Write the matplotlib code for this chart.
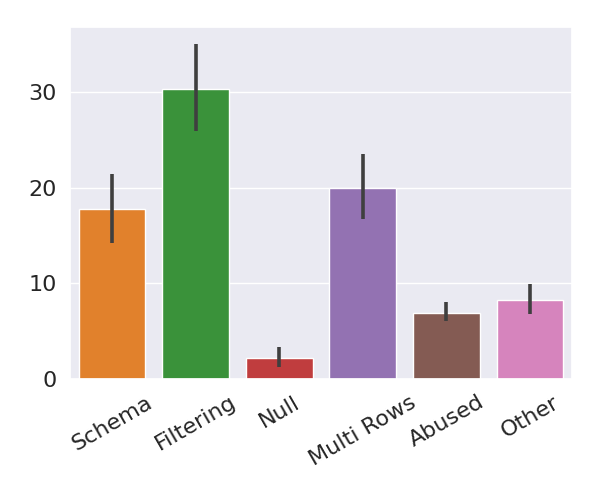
import matplotlib
matplotlib.use("Agg")
import matplotlib.pyplot as plt
import numpy as np
import seaborn as sns

sns.set_theme(style="darkgrid", font_scale=1.4)

categories = ["Schema", "Filtering", "Null", "Multi Rows", "Abused", "Other"]
means = [17.8, 30.4, 2.2, 20.0, 6.95, 8.3]
ci_low = [14.2, 26.0, 1.3, 16.8, 6.1, 6.85]
ci_high = [21.45, 35.1, 3.35, 23.55, 8.05, 9.95]
colors = ["#e1812c", "#3a923a", "#c03d3e", "#9372b2", "#845b53", "#d684bd"]

fig = plt.figure(figsize=(6, 5), dpi=100)
ax = fig.add_axes([0.117, 0.242, 0.836, 0.704])

x = np.arange(len(categories))
ax.bar(x, means, width=0.8, color=colors, edgecolor="white", linewidth=1)
means_a = np.array(means)
yerr = np.vstack([means_a - np.array(ci_low), np.array(ci_high) - means_a])
ax.errorbar(x, means, yerr=yerr, fmt="none", ecolor="#3f3f3f", elinewidth=2.6, capsize=0)

ax.set_xticks(x)
ax.set_xticklabels(categories, rotation=30)
ax.tick_params(axis="both", labelsize=16)
ax.set_xlim(-0.5, len(categories) - 0.5)
ax.set_yticks([0, 10, 20, 30])
ax.grid(axis="x", visible=False)

fig.savefig("out.png", dpi=100)
